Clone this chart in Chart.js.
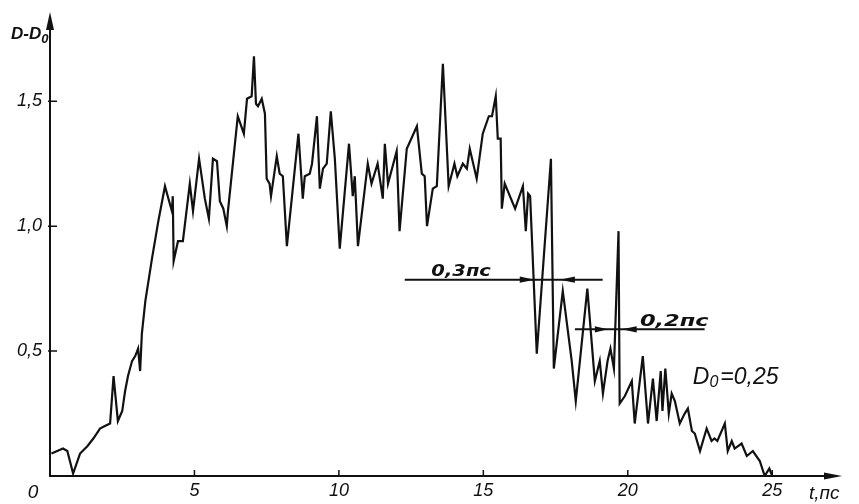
<!DOCTYPE html>
<html>
<head>
<meta charset="utf-8">
<script src="https://cdn.jsdelivr.net/npm/chart.js@4.4.0/dist/chart.umd.min.js"></script>
<style>
  html, body { margin: 0; padding: 0; background: #fff; }
  #wrap { width: 859px; height: 504px; }
</style>
</head>
<body>
<div id="wrap"><canvas id="c" width="859" height="504"></canvas></div>
<script>
// ---- data ----
const tValues = [
  0.05, 0.45, 0.6, 0.8, 1.04, 1.3, 1.5, 1.73, 1.9, 2.08, 2.2, 2.35, 2.5, 2.6, 2.7, 2.84, 2.95, 3.05, 3.12, 3.18,
  3.3, 3.53, 3.75, 3.98, 4.1, 4.22, 4.25, 4.28, 4.43, 4.6, 4.84, 4.95, 5.02, 5.16, 5.36, 5.5, 5.64, 5.78, 5.88, 6.0,
  6.12, 6.16, 6.5, 6.71, 6.82, 6.98, 7.06, 7.13, 7.2, 7.33, 7.44, 7.5, 7.6, 7.65, 7.85, 7.95, 8.06, 8.2, 8.6, 8.75,
  8.82, 8.99, 9.07, 9.24, 9.34, 9.45, 9.58, 9.72, 9.86, 10.03, 10.35, 10.48, 10.55, 10.66, 11.0, 11.13, 11.34, 11.52, 11.59, 11.7,
  12.0, 12.1, 12.35, 12.7, 12.87, 12.97, 13.05, 13.25, 13.39, 13.6, 13.8, 14.0, 14.1, 14.29, 14.43, 14.53, 14.77, 14.98, 15.19, 15.3,
  15.43, 15.5, 15.6, 15.64, 15.74, 16.1, 16.37, 16.47, 16.55, 16.62, 16.85, 17.34, 17.44, 17.75, 18.06, 18.2, 18.6, 18.86, 19.03, 19.14,
  19.3, 19.4, 19.52, 19.68, 19.72, 19.9, 20.14, 20.24, 20.52, 20.7, 20.87, 21.0, 21.14, 21.2, 21.3, 21.42, 21.52, 21.63, 21.8, 21.97,
  22.08, 22.22, 22.32, 22.5, 22.73, 22.9, 23.0, 23.1, 23.36, 23.46, 23.6, 23.7, 23.94, 24.12, 24.33, 24.57, 24.74, 24.9, 25.0
];
const dValues = [
  0.09, 0.11, 0.10, 0.01, 0.09, 0.12, 0.15, 0.19, 0.20, 0.21, 0.40, 0.22, 0.26, 0.34, 0.40, 0.46, 0.48, 0.51, 0.42, 0.57,
  0.70, 0.87, 1.02, 1.16, 1.11, 1.06, 1.12, 0.86, 0.94, 0.94, 1.17, 1.06, 1.13, 1.27, 1.11, 1.03, 1.27, 1.26, 1.10, 1.07,
  1.00, 1.06, 1.44, 1.37, 1.51, 1.52, 1.68, 1.49, 1.48, 1.51, 1.45, 1.19, 1.17, 1.12, 1.28, 1.21, 1.20, 0.92, 1.37, 1.11,
  1.20, 1.21, 1.25, 1.44, 1.15, 1.23, 1.25, 1.46, 1.27, 0.91, 1.33, 1.12, 1.20, 0.92, 1.25, 1.17, 1.25, 1.11, 1.33, 1.17,
  1.30, 0.98, 1.31, 1.40, 1.21, 1.20, 1.00, 1.15, 1.16, 1.65, 1.16, 1.25, 1.20, 1.25, 1.23, 1.31, 1.19, 1.37, 1.44, 1.44,
  1.52, 1.35, 1.35, 1.07, 1.17, 1.07, 1.16, 0.98, 1.13, 1.12, 0.49, 1.27, 0.43, 0.74, 0.46, 0.30, 0.75, 0.38, 0.46, 0.33,
  0.46, 0.51, 0.43, 0.98, 0.29, 0.32, 0.38, 0.21, 0.48, 0.21, 0.39, 0.22, 0.42, 0.26, 0.43, 0.25, 0.33, 0.30, 0.21, 0.25,
  0.27, 0.18, 0.17, 0.10, 0.19, 0.14, 0.15, 0.14, 0.21, 0.10, 0.14, 0.11, 0.13, 0.08, 0.10, 0.06, 0.00, 0.03, 0.00
];
const xTickValues = [5, 10, 15, 20, 25];
const xTickLabels = ['5', '10', '15', '20', '25'];
const yTickValues = [0.5, 1.0, 1.5];
const yTickLabels = ['0,5', '1,0', '1,5'];

const ink = '#111';
const tickFont = { family: 'Liberation Sans', size: 18, style: 'italic' };

const points = tValues.map((t, i) => ({ x: t, y: dValues[i] }));

function arrowHead(ctx, tipX, tipY, dirX, dirY, len, half) {
  const px = -dirY, py = dirX;
  ctx.beginPath();
  ctx.moveTo(tipX, tipY);
  ctx.lineTo(tipX - dirX * len + px * half, tipY - dirY * len + py * half);
  ctx.lineTo(tipX - dirX * len - px * half, tipY - dirY * len - py * half);
  ctx.closePath();
  ctx.fill();
}

function wideText(ctx, text, x, y, sx) {
  ctx.save();
  ctx.translate(x, y);
  ctx.scale(sx, 1);
  ctx.fillText(text, 0, 0);
  ctx.restore();
}

const overlay = {
  id: 'overlay',
  afterDraw(chart) {
    const { ctx } = chart;
    const xs = chart.scales.x, ys = chart.scales.y;
    const X = v => xs.getPixelForValue(v);
    const Y = v => ys.getPixelForValue(v);
    const x0 = X(0), y0 = Y(0);
    ctx.save();
    ctx.strokeStyle = ink;
    ctx.fillStyle = ink;
    ctx.lineCap = 'butt';
    // axes
    ctx.lineWidth = 2;
    ctx.beginPath();
    ctx.moveTo(x0, y0 + 1);
    ctx.lineTo(x0, 26);
    ctx.moveTo(x0 - 1, y0);
    ctx.lineTo(828, y0);
    ctx.stroke();
    arrowHead(ctx, x0, 12, 0, -1, 18, 4);
    arrowHead(ctx, 842, y0, 1, 0, 18, 3.5);
    // inward ticks
    ctx.lineWidth = 1.5;
    ctx.beginPath();
    yTickValues.forEach(v => { ctx.moveTo(x0 - 2, Y(v)); ctx.lineTo(x0 + 7, Y(v)); });
    xTickValues.forEach(v => { ctx.moveTo(X(v), y0); ctx.lineTo(X(v), y0 - 6); });
    ctx.stroke();

    // dimension marks
    const dims = [
      { from: 12.28, to: 19.13, v: 0.786, lTip: 16.78, lLen: 15, rTip: 17.65, rLen: 15, label: '0,3пс', lx: 13.2, lv: 0.80, sx: 1.3 },
      { from: 18.17, to: 22.66, v: 0.587, lTip: 19.31, lLen: 13, rTip: 19.79, rLen: 15, label: '0,2пс', lx: 20.42, lv: 0.60, sx: 1.5 }
    ];
    dims.forEach(d => {
      const yy = Y(d.v);
      ctx.lineWidth = 2;
      ctx.beginPath();
      ctx.moveTo(X(d.from), yy);
      ctx.lineTo(X(d.to), yy);
      ctx.stroke();
      arrowHead(ctx, X(d.lTip), yy, 1, 0, d.lLen, 3.2);
      arrowHead(ctx, X(d.rTip), yy, -1, 0, d.rLen, 3.2);
      ctx.font = 'italic bold 15px "DejaVu Sans"';
      ctx.textAlign = 'left';
      ctx.textBaseline = 'alphabetic';
      wideText(ctx, d.label, X(d.lx), Y(d.lv), d.sx);
    });

    // D0 = 0,25
    ctx.font = 'italic 23px "Liberation Sans"';
    ctx.textAlign = 'left';
    ctx.textBaseline = 'alphabetic';
    let tx = X(22.25), ty = Y(0.37);
    ctx.fillText('D', tx, ty);
    tx += ctx.measureText('D').width;
    ctx.font = 'italic 16px "Liberation Sans"';
    ctx.fillText('0', tx, ty + 3);
    tx += ctx.measureText('0').width + 2;
    ctx.font = 'italic 23px "Liberation Sans"';
    ctx.fillText('=0,25', tx, ty);

    // y axis title D-D0
    ctx.font = 'italic bold 17px "Liberation Sans"';
    tx = 11; ty = 39;
    ctx.fillText('D-D', tx, ty);
    tx += ctx.measureText('D-D').width;
    ctx.font = 'italic bold 13px "Liberation Sans"';
    ctx.fillText('0', tx, ty + 4);

    // x axis title and origin label
    ctx.font = 'italic 19px "Liberation Sans"';
    ctx.fillText('t,пс', 809, 499);
    ctx.textAlign = 'center';
    ctx.fillText('0', 33, 498);
    ctx.restore();
  }
};

new Chart(document.getElementById('c'), {
  type: 'line',
  data: {
    datasets: [{
      data: points,
      borderColor: ink,
      borderWidth: 2.2,
      pointRadius: 0,
      tension: 0,
      fill: false
    }]
  },
  options: {
    responsive: false,
    animation: false,
    devicePixelRatio: 1,
    layout: { padding: { left: 0, right: 29, top: 15, bottom: 0 } },
    plugins: { legend: { display: false }, tooltip: { enabled: false } },
    scales: {
      x: {
        type: 'linear',
        min: 0,
        max: 27,
        afterBuildTicks: s => { s.ticks = xTickValues.map(v => ({ value: v })); },
        afterFit: s => { s.height = 28; },
        ticks: {
          autoSkip: false,
          maxRotation: 0,
          color: ink,
          font: tickFont,
          padding: 4,
          callback: v => xTickLabels[xTickValues.indexOf(v)]
        },
        grid: { display: false, drawTicks: false },
        border: { display: false }
      },
      y: {
        type: 'linear',
        min: 0,
        max: 1.83,
        afterBuildTicks: s => { s.ticks = yTickValues.map(v => ({ value: v })); },
        afterFit: s => { s.width = 50; },
        ticks: {
          autoSkip: false,
          color: ink,
          font: tickFont,
          padding: 8,
          callback: v => yTickLabels[yTickValues.indexOf(v)]
        },
        grid: { display: false, drawTicks: false },
        border: { display: false }
      }
    }
  },
  plugins: [overlay]
});
</script>
</body>
</html>
